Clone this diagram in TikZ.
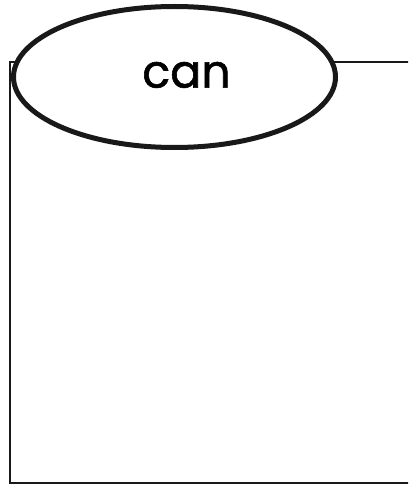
\documentclass[tikz,border=0pt]{standalone}
\usepackage{fontspec}
\setmainfont{Poppins}[FakeBold=1.2]
\usetikzlibrary{shapes.geometric}
\tikzset{
  frame/.style={draw=black!90, line width=2pt},
  bubble/.style={ellipse, draw=black!90, line width=5pt, fill=white,
    minimum width=322pt, minimum height=141pt, inner sep=0pt,
    font=\fontsize{46}{50}\selectfont}
}
\begin{document}
\begin{tikzpicture}[x=1pt,y=-1pt]
\useasboundingbox (0,0) rectangle (408,484);
\begin{scope}
\clip (0,0) rectangle (408,484);
\coordinate (tl) at (9.5,62);
\coordinate (br) at (420,482.5);
\draw[frame] (tl) rectangle (br);
\end{scope}
\node[bubble] (can) at (174.5,77) {\hspace*{24pt}\raisebox{4.5pt}{can}};
\end{tikzpicture}
\end{document}
